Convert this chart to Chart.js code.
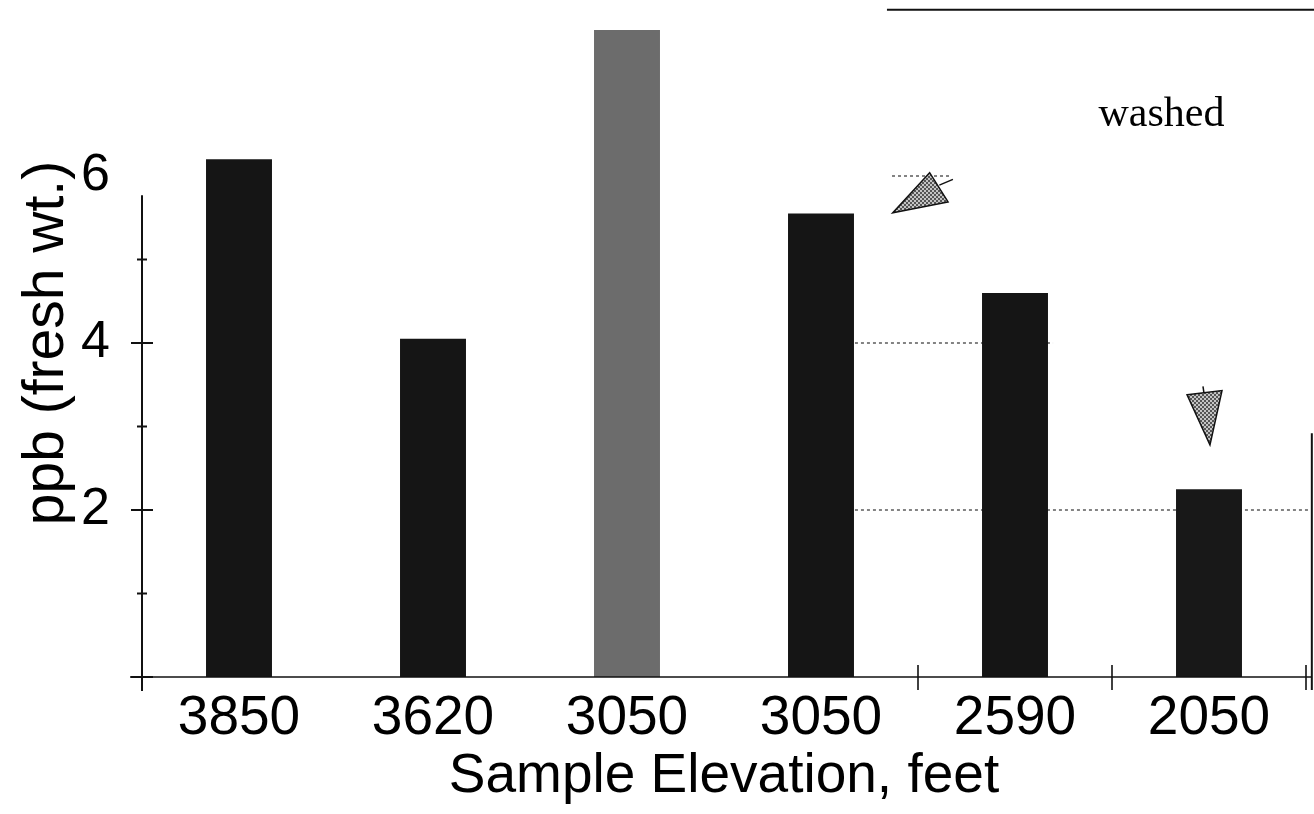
<!DOCTYPE html>
<html>
<head>
<meta charset="utf-8">
<script src="https://cdn.jsdelivr.net/npm/chart.js@4/dist/chart.umd.min.js"></script>
<style>
  html, body { margin: 0; padding: 0; background: #ffffff; }
  #wrap { width: 1314px; height: 814px; }
</style>
</head>
<body>
<div id="wrap"><canvas id="c" width="1314" height="814"></canvas></div>
<script>
// ---- data ----
const categories = ['3850', '3620', '3050', '3050', '2590', '2050'];
const ppbValues = [6.2, 4.05, 7.75, 5.55, 4.6, 2.25];
const barColors = ['#151515', '#151515', '#6c6c6c', '#151515', '#151515', '#181818'];
const yTickLabels = [2, 4, 6];
const yTitle = 'ppb (fresh wt.)';
const xTitle = 'Sample Elevation, feet';
const noteText = 'washed';

// annotation arrows, in (category index, value) units
const arrowUpLeft = [[3.37, 5.56], [3.56, 6.04], [3.655, 5.69]];
const arrowUpLeftTail = [[3.61, 5.89], [3.68, 5.96]];
const arrowDown = [[4.887, 3.38], [5.067, 3.43], [5.005, 2.78]];
const arrowDownTail = [[4.969, 3.48], [4.974, 3.40]];

const FONT = "'Liberation Sans', Arial, Helvetica, sans-serif";

function stipple(ctx) {
  const c = document.createElement('canvas');
  c.width = 4; c.height = 4;
  const g = c.getContext('2d');
  g.fillStyle = '#c4c4c4'; g.fillRect(0, 0, 4, 4);
  g.fillStyle = '#555'; g.fillRect(0, 0, 2, 2); g.fillRect(2, 2, 2, 2);
  return ctx.createPattern(c, 'repeat');
}

const decor = {
  id: 'decor',
  beforeDatasetsDraw(chart) {
    const {ctx} = chart;
    const x = chart.scales.x, y = chart.scales.y;
    const px = v => x.getPixelForValue(v);
    const py = v => y.getPixelForValue(v);
    ctx.save();
    ctx.strokeStyle = '#333';
    ctx.lineWidth = 1.2;
    ctx.setLineDash([3, 3]);
    const dotted = (v, a, b) => {
      ctx.beginPath(); ctx.moveTo(px(a), py(v)); ctx.lineTo(px(b), py(v)); ctx.stroke();
    };
    dotted(4, 3.175, 4.196);
    dotted(2, 3.175, 5.52);
    dotted(6, 3.366, 3.675);
    ctx.restore();
  },
  afterDatasetsDraw(chart) {
    const {ctx} = chart;
    const x = chart.scales.x, y = chart.scales.y;
    const px = v => x.getPixelForValue(v);
    const py = v => y.getPixelForValue(v);
    const left = chart.chartArea.left;
    ctx.save();
    ctx.strokeStyle = '#111';
    ctx.lineWidth = 2;
    // y axis line
    ctx.beginPath(); ctx.moveTo(left, py(5.77)); ctx.lineTo(left, py(0) + 14); ctx.stroke();
    // y ticks
    for (let v = 0; v <= 5; v++) {
      const half = (v % 2 === 0) ? 11 : 5;
      ctx.beginPath(); ctx.moveTo(left - half, py(v)); ctx.lineTo(left + half, py(v)); ctx.stroke();
    }
    // x axis line
    ctx.lineWidth = 1.6;
    ctx.beginPath(); ctx.moveTo(left - 12, py(0)); ctx.lineTo(px(5.53), py(0)); ctx.stroke();
    // x boundary ticks
    [3.5, 4.5, 5.5].forEach(t => {
      ctx.beginPath(); ctx.moveTo(px(t), py(0) - 12); ctx.lineTo(px(t), py(0) + 13); ctx.stroke();
    });
    // right frame line
    ctx.lineWidth = 2;
    ctx.beginPath(); ctx.moveTo(px(5.53), py(2.92)); ctx.lineTo(px(5.53), py(0) + 13); ctx.stroke();
    // top frame line
    ctx.lineWidth = 2;
    ctx.beginPath(); ctx.moveTo(px(3.34), py(7.99)); ctx.lineTo(px(5.55), py(7.99)); ctx.stroke();

    // arrows
    const pat = stipple(ctx);
    const tri = pts => {
      ctx.beginPath();
      pts.forEach((p, i) => { const X = px(p[0]), Y = py(p[1]); i ? ctx.lineTo(X, Y) : ctx.moveTo(X, Y); });
      ctx.closePath();
      ctx.fillStyle = pat;
      ctx.fill();
      ctx.lineWidth = 1.5;
      ctx.strokeStyle = '#111';
      ctx.stroke();
    };
    const seg = pts => {
      ctx.beginPath();
      ctx.moveTo(px(pts[0][0]), py(pts[0][1]));
      ctx.lineTo(px(pts[1][0]), py(pts[1][1]));
      ctx.lineWidth = 1.5; ctx.strokeStyle = '#111'; ctx.stroke();
    };
    tri(arrowUpLeft); seg(arrowUpLeftTail);
    tri(arrowDown); seg(arrowDownTail);

    // note text
    ctx.fillStyle = '#000';
    ctx.font = "42px 'Liberation Serif', 'Times New Roman', serif";
    ctx.textAlign = 'center';
    ctx.textBaseline = 'middle';
    ctx.fillText(noteText, px(4.755), py(6.73));
    ctx.restore();
  }
};

new Chart(document.getElementById('c'), {
  type: 'bar',
  data: {
    labels: categories,
    datasets: [{
      data: ppbValues,
      backgroundColor: barColors,
      borderWidth: 0,
      barPercentage: 0.34,
      categoryPercentage: 1.0
    }]
  },
  options: {
    responsive: false,
    animation: false,
    devicePixelRatio: 1,
    layout: { padding: { left: 0, right: 8, top: 9, bottom: 0 } },
    plugins: { legend: { display: false }, tooltip: { enabled: false } },
    scales: {
      x: {
        offset: true,
        grid: { display: false, drawTicks: false },
        border: { display: false },
        ticks: { color: '#000', font: { family: FONT, size: 55 }, padding: 9, maxRotation: 0, autoSkip: false },
        title: { display: true, text: xTitle, color: '#000', font: { family: FONT, size: 55 }, padding: { top: 0, bottom: 4 } },
        afterFit(s) { s.height = 137; s.paddingLeft = 0; s.paddingRight = 0; }
      },
      y: {
        min: 0, max: 8,
        grid: { display: false, drawTicks: false },
        border: { display: false },
        ticks: {
          stepSize: 1,
          color: '#000',
          font: { family: FONT, size: 52 },
          padding: 32,
          callback: v => yTickLabels.includes(v) ? String(v) : null
        },
        title: { display: true, text: yTitle, color: '#000', font: { family: FONT, size: 57 }, padding: { top: 13, bottom: 0 } },
        afterFit(s) { s.width = 142; s.paddingTop = 0; s.paddingBottom = 0; }
      }
    }
  },
  plugins: [decor]
});
</script>
</body>
</html>
